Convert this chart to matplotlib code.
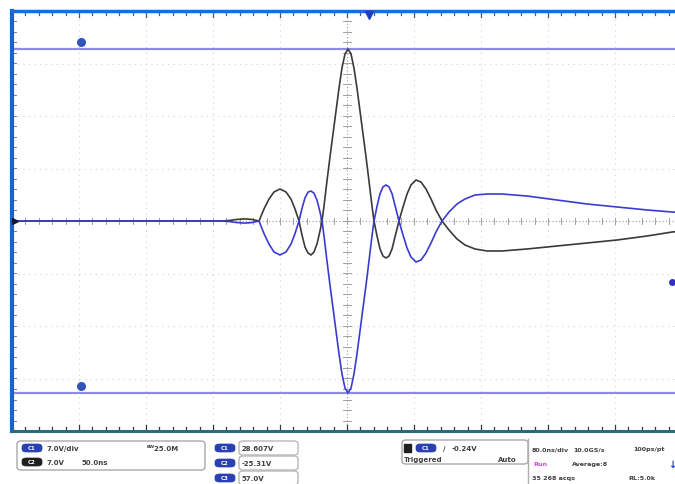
import numpy as np
import matplotlib
matplotlib.use("Agg")
import matplotlib.pyplot as plt
from matplotlib.patches import FancyBboxPatch

W, H = 675, 485

# time in divisions (80 ns/div), amplitude in divisions
t_div = [-5.0, -2.239, -1.866, -1.761, -1.642, -1.522, -1.418, -1.313,
         -1.239, -1.164, -1.090, -1.000, -0.910, -0.836, -0.776, -0.716,
         -0.672, -0.627, -0.582, -0.537, -0.493, -0.448, -0.403, -0.373,
         -0.343, -0.299, -0.254, -0.209, -0.164, -0.119, -0.075, -0.030,
         0.015, 0.060, 0.104, 0.149, 0.194, 0.239, 0.284, 0.328, 0.373,
         0.403, 0.448, 0.493, 0.537, 0.582, 0.627, 0.672, 0.716, 0.776,
         0.836, 0.896, 0.955, 1.030, 1.104, 1.179, 1.254, 1.328, 1.418,
         1.522, 1.642, 1.761, 1.910, 2.090, 2.313, 2.687, 3.134, 3.582,
         4.030, 4.478, 4.851, 5.0]

ch_black = [0, 0, 0, 0.01, 0.03, 0.04, 0.03, 0,
            0.229, 0.419, 0.552, 0.610, 0.552, 0.419, 0.229, 0,
            -0.267, -0.495, -0.610, -0.648, -0.590, -0.438, -0.190, 0,
            0.286, 0.762, 1.219, 1.657, 2.095, 2.533, 2.914, 3.181,
            3.276, 3.181, 2.914, 2.533, 2.095, 1.657, 1.219, 0.762, 0.286,
            0, -0.286, -0.533, -0.667, -0.705, -0.667, -0.533, -0.305, 0,
            0.267, 0.514, 0.686, 0.781, 0.743, 0.610, 0.419, 0.210, 0,
            -0.171, -0.343, -0.457, -0.533, -0.571, -0.571, -0.533, -0.476, -0.419,
            -0.362, -0.286, -0.210, -0.190]

ch_blue = [0, 0, 0, -0.01, -0.03, -0.04, -0.03, 0,
           -0.240, -0.440, -0.590, -0.648, -0.590, -0.440, -0.240, 0,
           0.240, 0.440, 0.550, 0.571, 0.530, 0.400, 0.170, 0,
           -0.286, -0.762, -1.219, -1.657, -2.095, -2.533, -2.914, -3.181,
           -3.276, -3.181, -2.914, -2.533, -2.095, -1.657, -1.219, -0.762, -0.286,
           0, 0.280, 0.520, 0.650, 0.686, 0.650, 0.520, 0.300, 0,
           -0.267, -0.514, -0.686, -0.781, -0.743, -0.610, -0.419, -0.210, 0,
           0.171, 0.324, 0.419, 0.495, 0.514, 0.514, 0.476, 0.400, 0.324,
           0.267, 0.210, 0.171, 0.162]

cursor_levels = [3.276, -3.276]
cursor_x = -3.97
trigger_pos = 0.33
trigger_level = -1.16

fig = plt.figure(figsize=(W / 100, H / 100), dpi=100)
fig.patch.set_facecolor("white")
ax = fig.add_axes([12 / W, (H - 432) / H, 670 / W, 420 / H])
ax.set_xlim(-5, 5)
ax.set_ylim(-4, 4)
ax.axis("off")

# graticule
for gx in range(-4, 5):
    if gx != 0:
        ax.axvline(gx, color="#d2d2d2", lw=0.8, ls=(0, (1, 4)), zorder=1)
for gy in range(-3, 4):
    if gy != 0:
        ax.axhline(gy, color="#d2d2d2", lw=0.8, ls=(0, (1, 4)), zorder=1)
ax.axvline(0, color="#999999", lw=0.8, ls=(0, (1, 2)), zorder=1)
ax.axhline(0, color="#999999", lw=0.8, ls=(0, (1, 2)), zorder=1)
for k in np.arange(-5, 5.01, 0.2):
    ax.plot([k, k], [-0.05, 0.05], color="#a0a0a0", lw=0.7, zorder=1)
    big = abs(k - round(k)) < 1e-6
    h = 0.12 if big else 0.07
    ax.plot([k, k], [4, 4 - h], color="#505a6a", lw=0.9, zorder=2, clip_on=False)
    ax.plot([k, k], [-4, -4 + h], color="#303a40", lw=0.9, zorder=2, clip_on=False)
for k in np.arange(-4, 4.01, 0.2):
    ax.plot([-0.06, 0.06], [k, k], color="#a0a0a0", lw=0.7, zorder=1)
    ax.plot([-5, -4.94], [k, k], color="#6080b0", lw=0.7, zorder=2, clip_on=False)

# cursors
for lv in cursor_levels:
    ax.axhline(lv, color="#8c8ce6", lw=1.6, zorder=2)
    ax.plot(cursor_x, lv + 0.13, "o", color="#3355bb", ms=5.5, zorder=4)

# waveforms
ax.plot(t_div, ch_black, color="#3a3a3a", lw=1.2, zorder=3)
ax.plot(t_div, ch_blue, color="#3b3bd0", lw=1.2, zorder=3)

# frame
ax.axvline(-5, color="#1565d0", lw=3.0, zorder=5, clip_on=False)
ax.axhline(4, color="#1a6ae0", lw=2.5, zorder=5, clip_on=False)
ax.axhline(-4, color="#2c6b7a", lw=2.2, zorder=5, clip_on=False)

# markers
ax.plot(trigger_pos, 3.93, "v", color="#1a3fc0", ms=6, zorder=6, clip_on=False)
ax.plot(-4.95, 0, ">", color="#101840", ms=5, zorder=6, clip_on=False)
ax.plot(4.85, trigger_level, "o", color="#3030c8", ms=4, zorder=6, clip_on=False)


def fx(x):
    return x / W


def fy(y):
    return 1 - y / H


def box(x0, y0, x1, y1, ec="#a8a8a8"):
    p = FancyBboxPatch((fx(x0), fy(y1)), fx(x1 - x0), (y1 - y0) / H,
                       boxstyle="round,pad=0,rounding_size=0.006",
                       transform=fig.transFigure, fc="white", ec=ec, lw=1.0)
    fig.patches.append(p)


def pill(x0, y, color, label):
    p = FancyBboxPatch((fx(x0), fy(y + 4)), fx(20), 8 / H,
                       boxstyle="round,pad=0,rounding_size=0.006",
                       transform=fig.transFigure, fc=color, ec=color, lw=0.5)
    fig.patches.append(p)
    fig.text(fx(x0 + 10), fy(y), label, color="white", fontsize=4,
             ha="center", va="center", fontweight="bold")


def txt(x, y, s, color="#404040", size=5.0, **kw):
    fig.text(fx(x), fy(y), s, color=color, fontsize=size, va="center",
             fontweight="bold", **kw)


# channel box
box(17, 442, 205, 471)
pill(22, 449, "#2a40b0", "C1")
txt(46, 449, "7.0V/div")
txt(147, 449, "ᴮᵂ25.0M")
pill(22, 463, "#202020", "C2")
txt(46, 463, "7.0V")
txt(82, 463, "50.0ns")

# cursor readouts
for i, (yy, s) in enumerate([(449, "28.607V"), (464, "-25.31V"), (479, "57.0V")]):
    pill(215, yy, "#2a40b0", "C%d" % (i + 1))
    box(239, yy - 7, 298, yy + 7, ec="#b8b8b8")
    txt(242, yy, s)

# trigger box
box(402, 441, 528, 465)
fig.patches.append(FancyBboxPatch((fx(404), fy(453)), fx(7), 8 / H, boxstyle="square,pad=0",
                                  transform=fig.transFigure, fc="#202020", ec="#202020"))
pill(416, 449, "#2a40b0", "C1")
txt(443, 449, "/")
txt(452, 449, "-0.24V")
txt(404, 460, "Triggered")
txt(498, 460, "Auto")

# acquisition info
fig.add_artist(plt.Line2D([fx(528), fx(528)], [fy(440), fy(485)], color="#b0b0b0",
                          lw=1.0, transform=fig.transFigure))
txt(532, 450, "80.0ns/div", size=4.6)
txt(573, 450, "10.0GS/s", size=4.6)
txt(633, 450, "100ps/pt", size=4.6)
txt(533, 465, "Run", color="#e040e0", size=4.6)
txt(572, 465, "Average:8", size=4.6)
txt(668, 465, "↓", color="#2040c0", size=7)
txt(532, 479, "35 268 acqs", size=4.6)
txt(628, 479, "RL:5.0k", size=4.6)

fig.savefig("out.png", dpi=100, facecolor="white")
